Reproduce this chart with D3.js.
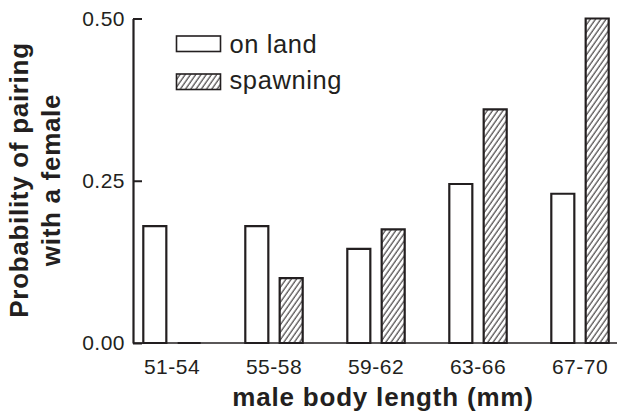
<!DOCTYPE html>
<html>
<head>
<meta charset="utf-8">
<script src="https://cdn.jsdelivr.net/npm/d3@7"></script>
<style>
  html, body { margin: 0; padding: 0; background: #fff; }
  svg { display: block; font-family: "Liberation Sans", Arial, Helvetica, sans-serif; }
</style>
</head>
<body>
<svg id="chart" width="618" height="416"></svg>
<script>
// Size classes of males (body length, mm)
const categories = ["51-54", "55-58", "59-62", "63-66", "67-70"];
const seriesNames = ["on land", "spawning"];
// Probability of pairing with a female, per size class
const onLand   = [0.18, 0.18, 0.145, 0.245, 0.23];
const spawning = [0.00, 0.10, 0.175, 0.36, 0.50];
const yTicks = [0, 0.25, 0.5];

const ink = "#231f20";
const font = "Liberation Sans, Arial, sans-serif";
const svg = d3.select("#chart");

const axisX = 133, baseY = 343, topY = 18.5, rightX = 617;

const x = d3.scaleBand().domain(categories).range([121, 631]).padding(0);
const xInner = d3.scaleBand().domain(seriesNames).range([22.3, 79.7]).paddingInner(0.33);
const y = d3.scaleLinear().domain([0, 0.5]).range([baseY, topY]);

// Diagonal hatching for the spawning series
const defs = svg.append("defs");
const pat = defs.append("pattern")
  .attr("id", "hatch")
  .attr("patternUnits", "userSpaceOnUse")
  .attr("width", 4.3).attr("height", 10)
  .attr("patternTransform", "rotate(35)");
pat.append("rect").attr("width", 4.3).attr("height", 10).attr("fill", "#fff");
pat.append("line").attr("x1", 1).attr("x2", 1).attr("y1", 0).attr("y2", 10)
  .attr("stroke", ink).attr("stroke-width", 1);

// Bars
const rows = categories.map((c, i) => ({ cat: c, values: [
  { name: seriesNames[0], v: onLand[i] },
  { name: seriesNames[1], v: spawning[i] }
]}));

const groups = svg.append("g").selectAll("g").data(rows).join("g")
  .attr("transform", d => `translate(${x(d.cat)},0)`);

groups.selectAll("path").data(d => d.values).join("path")
  .attr("d", d => {
    const x0 = xInner(d.name), x1 = x0 + xInner.bandwidth();
    return `M${x0},${y(0)}V${y(d.v)}H${x1}V${y(0)}Z`;
  })
  .attr("fill", d => d.name === "spawning" ? "url(#hatch)" : "#fff")
  .attr("stroke", ink)
  .attr("stroke-width", 2.2)
  .attr("stroke-linejoin", "miter");

// Y axis with inward ticks
const yAxis = svg.append("g")
  .attr("transform", `translate(${axisX},0)`)
  .call(d3.axisLeft(y).tickValues(yTicks).tickFormat(d3.format(".2f"))
    .tickSizeInner(-9).tickSizeOuter(0).tickPadding(8));
yAxis.select(".domain").attr("stroke", ink).attr("stroke-width", 2.2);
yAxis.selectAll(".tick line").attr("stroke", ink).attr("stroke-width", 2);
yAxis.selectAll(".tick text").attr("fill", ink).attr("font-size", 21)
  .attr("letter-spacing", 0.5).attr("font-family", font);

// X axis: baseline plus category labels
const xAxis = svg.append("g")
  .attr("transform", `translate(0,${baseY})`)
  .call(d3.axisBottom(x).tickSize(0).tickPadding(16));
xAxis.select(".domain").remove();
xAxis.selectAll(".tick text").attr("fill", ink).attr("font-size", 21)
  .attr("letter-spacing", 0.5).attr("font-family", font);
svg.append("line")
  .attr("x1", axisX).attr("x2", rightX)
  .attr("y1", baseY).attr("y2", baseY)
  .attr("stroke", ink).attr("stroke-width", 1.6);

// Axis titles
svg.append("text")
  .attr("x", 383).attr("y", 406)
  .attr("text-anchor", "middle")
  .attr("font-size", 26).attr("font-weight", "bold").attr("fill", ink)
  .attr("letter-spacing", 0.8)
  .text("male body length (mm)");

const yTitle = svg.append("g").attr("transform", "translate(0,180) rotate(-90)");
yTitle.append("text").attr("x", 0).attr("y", 28)
  .attr("text-anchor", "middle").attr("font-size", 26).attr("font-weight", "bold").attr("fill", ink)
  .attr("letter-spacing", 0.7)
  .text("Probability of pairing");
yTitle.append("text").attr("x", 0).attr("y", 60)
  .attr("text-anchor", "middle").attr("font-size", 26).attr("font-weight", "bold").attr("fill", ink)
  .attr("letter-spacing", 0.7)
  .text("with a female");

// Legend
const legend = svg.append("g");
const legendRows = [
  { name: seriesNames[0], fill: "#fff", top: 36, base: 53 },
  { name: seriesNames[1], fill: "url(#hatch)", top: 74, base: 89 }
];
legend.selectAll("rect").data(legendRows).join("rect")
  .attr("x", 176.5).attr("y", d => d.top)
  .attr("width", 44).attr("height", 15.5)
  .attr("fill", d => d.fill).attr("stroke", ink).attr("stroke-width", 1.6);
legend.selectAll("text").data(legendRows).join("text")
  .attr("x", 229.5).attr("y", d => d.base)
  .attr("font-size", 25.5).attr("fill", ink)
  .attr("letter-spacing", 0.6)
  .text(d => d.name);
</script>
</body>
</html>
